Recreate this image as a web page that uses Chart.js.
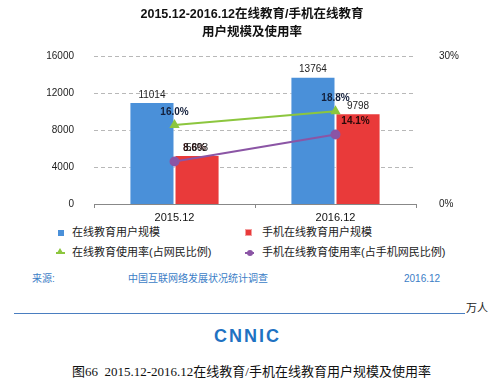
<!DOCTYPE html>
<html lang="zh-CN">
<head>
<meta charset="UTF-8">
<title>2015.12-2016.12在线教育/手机在线教育用户规模及使用率</title>
<script src="https://cdn.jsdelivr.net/npm/chart.js"></script>
<style>
    body { margin: 0; background: #fff; font-family: 'Liberation Sans', Arial, 'Noto Sans CJK SC', sans-serif; }
    #wrap { position: relative; width: 504px; height: 389px; overflow: hidden; }
    #chart { position: absolute; left: 0; top: 0; }
    .txt { position: absolute; white-space: nowrap; line-height: 1; }
    .lg { font-size: 11px; color: #222; }
    .src { font-size: 10px; color: #3b7dc6; }
    .mk { position: absolute; }
</style>
</head>
<body>
<div id="wrap">
    <canvas id="chart" width="504" height="225"></canvas>

    <!-- 图例 -->
    <span class="mk" style="left:58px;top:230px;width:6px;height:6px;background:#4a90d9;"></span>
    <span class="txt lg" style="left:72px;top:227px;">在线教育用户规模</span>
    <span class="mk" style="left:245px;top:229px;width:5px;height:5px;background:#e93a3a;border:1px solid #f4a0a0;"></span>
    <span class="txt lg" style="left:262px;top:227px;">手机在线教育用户规模</span>
    <span class="mk" style="left:56px;top:252px;width:9px;height:2px;background:#8cc63e;"></span>
    <span class="mk" style="left:57px;top:248px;width:0;height:0;border-left:3.5px solid transparent;border-right:3.5px solid transparent;border-bottom:5px solid #8cc63e;"></span>
    <span class="txt lg" style="left:72px;top:247px;">在线教育使用率(占网民比例)</span>
    <span class="mk" style="left:245px;top:252px;width:9px;height:2px;background:#8b55a5;"></span>
    <span class="mk" style="left:247px;top:250px;width:6px;height:6px;border-radius:50%;background:#8b55a5;"></span>
    <span class="txt lg" style="left:262px;top:247px;">手机在线教育使用率(占手机网民比例)</span>

    <!-- 来源 -->
    <span class="txt src" style="left:32px;top:274px;">来源:</span>
    <span class="txt src" style="left:128px;top:274px;">中国互联网络发展状况统计调查</span>
    <span class="txt src" style="left:404px;top:274px;">2016.12</span>

    <div style="position:absolute;left:14px;top:313px;width:451px;height:1px;background:#4a7ec0;"></div>
    <span class="txt" style="left:466px;top:303px;font-size:11px;color:#222;">万人</span>

    <span class="txt" style="left:214px;top:327px;font-size:18px;font-weight:bold;color:#1f72c2;letter-spacing:2px;">CNNIC</span>

    <span class="txt" style="left:72px;top:365px;font-size:13px;color:#111;font-family:'Liberation Serif','Times New Roman','Noto Sans CJK SC',serif;">图66&nbsp; 2015.12-2016.12在线教育/手机在线教育用户规模及使用率</span>
</div>

<script>
var periods = ['2015.12', '2016.12'];
var eduUsers = [11014, 13764];         // 在线教育用户规模(万人)
var mobileEduUsers = [5303, 9798];     // 手机在线教育用户规模(万人)
var eduRate = [16.0, 18.8];            // 在线教育使用率(%)
var mobileEduRate = [8.6, 14.1];       // 手机在线教育使用率(%)
var leftTicks = [0, 4000, 8000, 12000, 16000];
var rightTicks = [0, 30];

var FONT = "'Liberation Sans', Arial, 'Noto Sans CJK SC', sans-serif";
Chart.defaults.font.family = FONT;
Chart.defaults.color = '#222';

// 虚线网格
var dashedGrid = {
    id: 'dashedGrid',
    beforeDatasetsDraw: function(chart) {
        var ctx = chart.ctx, area = chart.chartArea, ys = chart.scales.y;
        ctx.save();
        ctx.strokeStyle = '#b8b8b8';
        ctx.lineWidth = 1;
        ctx.setLineDash([4, 3]);
        ys.ticks.forEach(function(t) {
            if (t.value === 0) return;
            var py = Math.round(ys.getPixelForValue(t.value)) + 0.5;
            ctx.beginPath();
            ctx.moveTo(area.left, py);
            ctx.lineTo(area.right, py);
            ctx.stroke();
        });
        ctx.restore();
    }
};

// 数据标签
var valueLabels = {
    id: 'valueLabels',
    afterDatasetsDraw: function(chart) {
        var ctx = chart.ctx;
        chart.data.datasets.forEach(function(ds, i) {
            var meta = chart.getDatasetMeta(i);
            meta.data.forEach(function(el, j) {
                var v = ds.data[j];
                ctx.save();
                ctx.textAlign = 'center';
                ctx.textBaseline = 'middle';
                if (ds.type === 'bar') {
                    ctx.font = '10px ' + FONT;
                    ctx.fillStyle = '#222';
                    ctx.fillText(String(v), el.x, el.y - 7);
                } else {
                    ctx.font = 'bold 10px ' + FONT;
                    ctx.fillStyle = ds.labelColor;
                    ctx.fillText(v.toFixed(1) + '%', el.x + ds.labelShift, el.y - 13);
                }
                ctx.restore();
            });
        });
    }
};

var ctx = document.getElementById('chart').getContext('2d');
new Chart(ctx, {
    data: {
        labels: periods,
        datasets: [{
            type: 'line',
            label: '在线教育使用率(占网民比例)',
            data: eduRate,
            yAxisID: 'y1',
            borderColor: '#8cc63e',
            backgroundColor: '#8cc63e',
            borderWidth: 2,
            pointStyle: 'triangle',
            pointRadius: 4,
            labelColor: '#14203c',
            labelShift: 0,
            order: 0
        }, {
            type: 'line',
            label: '手机在线教育使用率(占手机网民比例)',
            data: mobileEduRate,
            yAxisID: 'y1',
            borderColor: '#8b55a5',
            backgroundColor: '#8b55a5',
            borderWidth: 2,
            pointStyle: 'circle',
            pointRadius: 4,
            labelColor: '#2a0a0a',
            labelShift: 20,
            order: 0
        }, {
            type: 'bar',
            label: '在线教育用户规模',
            data: eduUsers,
            yAxisID: 'y',
            backgroundColor: '#4a90d9',
            borderColor: '#ffffff',
            borderWidth: 1,
            categoryPercentage: 0.56,
            barPercentage: 1,
            order: 1
        }, {
            type: 'bar',
            label: '手机在线教育用户规模',
            data: mobileEduUsers,
            yAxisID: 'y',
            backgroundColor: '#e93a3a',
            borderColor: '#ffffff',
            borderWidth: 1,
            categoryPercentage: 0.56,
            barPercentage: 1,
            order: 1
        }]
    },
    options: {
        responsive: false,
        animation: false,
        layout: { padding: 0 },
        plugins: {
            legend: { display: false },
            tooltip: { enabled: false },
            title: {
                display: true,
                text: ['2015.12-2016.12在线教育/手机在线教育', '用户规模及使用率'],
                font: { size: 12.5, weight: 'bold', lineHeight: 1.44 },
                color: '#111',
                padding: { top: 6, bottom: 14 }
            }
        },
        scales: {
            x: {
                offset: true,
                grid: {
                    offset: true,
                    drawOnChartArea: false,
                    drawTicks: true,
                    tickLength: 4,
                    color: '#888'
                },
                border: { color: '#888' },
                ticks: { font: { size: 11 }, padding: 3, color: '#111' },
                afterFit: function(s) { s.height = 21; }
            },
            y: {
                position: 'left',
                min: 0,
                max: 16000,
                afterBuildTicks: function(s) { s.ticks = leftTicks.map(function(v) { return { value: v }; }); },
                grid: { display: false },
                border: { display: false },
                ticks: {
                    font: { size: 10 },
                    padding: 12,
                    color: '#222',
                    callback: function(v) { return String(v); }
                },
                afterFit: function(s) { s.width = 94; }
            },
            y1: {
                position: 'right',
                min: 0,
                max: 30,
                afterBuildTicks: function(s) { s.ticks = rightTicks.map(function(v) { return { value: v }; }); },
                grid: { display: false },
                border: { display: false },
                ticks: {
                    font: { size: 10 },
                    padding: 15,
                    color: '#222',
                    callback: function(v) { return v + '%'; }
                },
                afterFit: function(s) { s.width = 88; }
            }
        }
    },
    plugins: [dashedGrid, valueLabels]
});
</script>
</body>
</html>
